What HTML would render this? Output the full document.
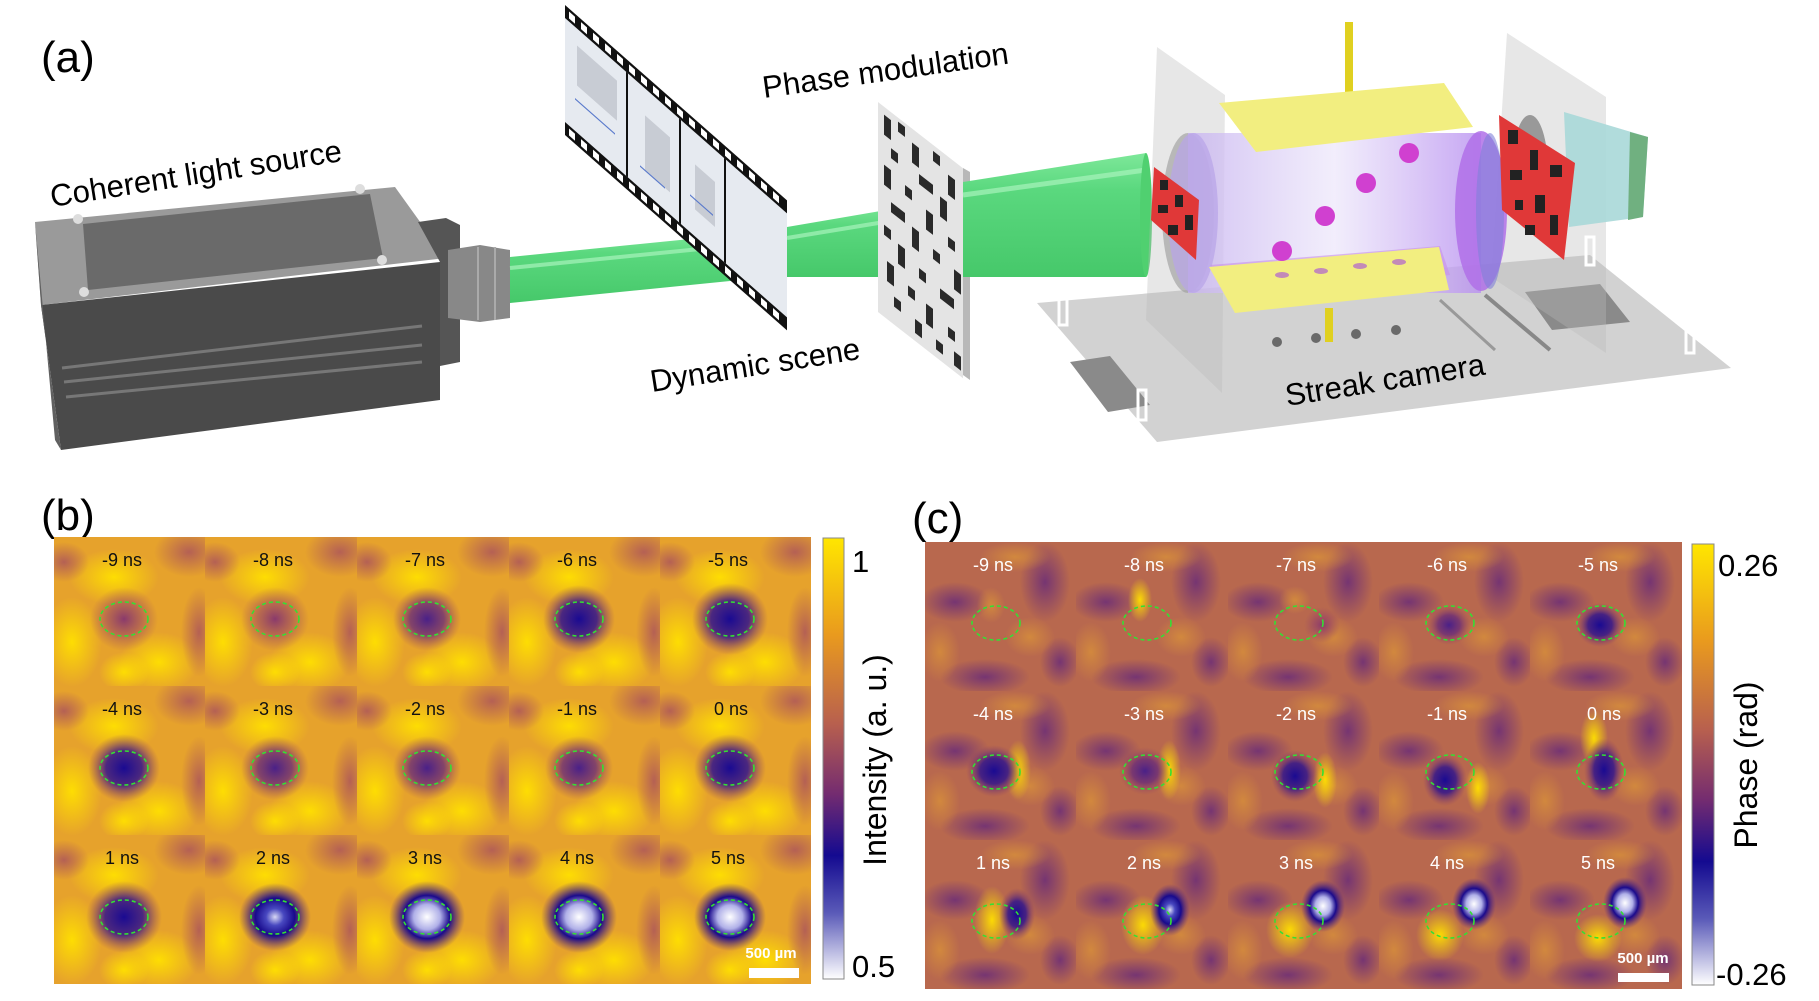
<!DOCTYPE html>
<html><head><meta charset="utf-8"><style>
html,body{margin:0;padding:0;background:#fff}
svg{display:block}
text{font-family:"Liberation Sans",Arial,sans-serif}
</style></head><body>
<svg width="1819" height="1001" viewBox="0 0 1819 1001" xmlns="http://www.w3.org/2000/svg">
<defs>
<radialGradient id="yb"><stop offset="0" stop-color="#ffe000" stop-opacity="0.95"/><stop offset="1" stop-color="#ffe000" stop-opacity="0"/></radialGradient>
<radialGradient id="pb"><stop offset="0" stop-color="#a8505e" stop-opacity="0.8"/><stop offset="1" stop-color="#a8505e" stop-opacity="0"/></radialGradient>
<radialGradient id="cp"><stop offset="0" stop-color="#6a2c78" stop-opacity="0.85"/><stop offset="1" stop-color="#6a2c78" stop-opacity="0"/></radialGradient>
<radialGradient id="co"><stop offset="0" stop-color="#d8903a" stop-opacity="0.8"/><stop offset="1" stop-color="#d8903a" stop-opacity="0"/></radialGradient>
<radialGradient id="s1"><stop offset="0" stop-color="#8a3a6c"/><stop offset="0.5" stop-color="#9a4664" stop-opacity="0.6"/><stop offset="1" stop-color="#a0505e" stop-opacity="0"/></radialGradient>
<radialGradient id="s2"><stop offset="0" stop-color="#4a2088"/><stop offset="0.5" stop-color="#6a2c78" stop-opacity="0.8"/><stop offset="1" stop-color="#9a4a60" stop-opacity="0"/></radialGradient>
<radialGradient id="s3"><stop offset="0" stop-color="#1a0a92"/><stop offset="0.5" stop-color="#3a1a88" stop-opacity="0.9"/><stop offset="1" stop-color="#8a3c68" stop-opacity="0"/></radialGradient>
<radialGradient id="s4"><stop offset="0" stop-color="#d8d8f4"/><stop offset="0.25" stop-color="#4848c0"/><stop offset="0.55" stop-color="#180a8c"/><stop offset="1" stop-color="#5a2880" stop-opacity="0"/></radialGradient>
<radialGradient id="s5"><stop offset="0" stop-color="#ffffff"/><stop offset="0.35" stop-color="#b0b0e8"/><stop offset="0.6" stop-color="#1a0a8c"/><stop offset="1" stop-color="#5a2880" stop-opacity="0"/></radialGradient>
<linearGradient id="cbar" x1="0" y1="0" x2="0" y2="1"><stop offset="0" stop-color="#ffe600"/><stop offset="0.22" stop-color="#e99a1e"/><stop offset="0.42" stop-color="#b8604e"/><stop offset="0.58" stop-color="#742c70"/><stop offset="0.72" stop-color="#140a90"/><stop offset="0.85" stop-color="#5a5ab8"/><stop offset="1" stop-color="#ffffff"/></linearGradient>
<linearGradient id="green" x1="0" y1="0" x2="0" y2="1"><stop offset="0" stop-color="#7ee89a"/><stop offset="0.3" stop-color="#5ad87e"/><stop offset="1" stop-color="#46c86a"/></linearGradient>
<linearGradient id="cyl" x1="0" y1="0" x2="1" y2="0"><stop offset="0" stop-color="#c8b4f0" stop-opacity="0.8"/><stop offset="0.5" stop-color="#ece6fa" stop-opacity="0.7"/><stop offset="1" stop-color="#b890f0" stop-opacity="0.8"/></linearGradient>
<clipPath id="tc"><rect width="153" height="151"/></clipPath>
<g id="tb" clip-path="url(#tc)">
<rect width="153" height="151" fill="#e6a22c"/>
<ellipse cx="60" cy="40" rx="45" ry="28" fill="url(#yb)"/>
<ellipse cx="105" cy="125" rx="40" ry="30" fill="url(#yb)"/>
<ellipse cx="18" cy="105" rx="30" ry="45" fill="url(#yb)"/>
<ellipse cx="70" cy="135" rx="25" ry="20" fill="url(#yb)"/>
<ellipse cx="135" cy="15" rx="35" ry="25" fill="url(#pb)"/>
<ellipse cx="145" cy="95" rx="18" ry="45" fill="url(#pb)"/>
<ellipse cx="10" cy="25" rx="25" ry="20" fill="url(#pb)"/>
</g>
<g id="tcg" clip-path="url(#tc)">
<rect width="153" height="151" fill="#b8684e"/>
<ellipse cx="30" cy="60" rx="35" ry="20" fill="url(#cp)"/>
<ellipse cx="120" cy="40" rx="25" ry="40" fill="url(#cp)"/>
<ellipse cx="60" cy="135" rx="45" ry="18" fill="url(#cp)"/>
<ellipse cx="135" cy="120" rx="20" ry="25" fill="url(#cp)"/>
<ellipse cx="90" cy="15" rx="35" ry="15" fill="url(#co)"/>
<ellipse cx="15" cy="110" rx="20" ry="30" fill="url(#co)"/>
<ellipse cx="105" cy="95" rx="25" ry="20" fill="url(#co)"/>
</g>
<ellipse id="de" rx="24" ry="17" fill="none" stroke="#33e033" stroke-width="1.6" stroke-dasharray="4 3"/>
</defs>

<!-- ===== Panel (a) ===== -->
<text x="41" y="72" font-size="44">(a)</text>

<polygon points="35,222 395,187 446,258 41,305" fill="#9a9a9a"/>
<polygon points="83,224 370,194 383,258 88,290" fill="#6a6a6a"/>
<circle cx="78" cy="219" r="5" fill="#ddd"/><circle cx="360" cy="189" r="5" fill="#ddd"/><circle cx="382" cy="260" r="5" fill="#ddd"/><circle cx="84" cy="292" r="5" fill="#ddd"/>
<polygon points="41,305 440,262 440,400 61,450" fill="#4a4a4a"/>
<polygon points="41,305 61,450 55,440 35,222" fill="#606060"/>
<g stroke="#777" stroke-width="3"><line x1="62" y1="368" x2="422" y2="326"/><line x1="64" y1="382" x2="422" y2="345"/><line x1="66" y1="397" x2="422" y2="362"/></g>
<polygon points="418,222 446,218 460,225 460,362 440,366 440,262" fill="#555"/>
<polygon points="448,250 480,245 510,250 510,318 480,322 448,318" fill="#888"/>
<g stroke="#aaa" stroke-width="2"><line x1="478" y1="247" x2="478" y2="320"/><line x1="495" y1="247" x2="495" y2="320"/></g>

<polygon points="510,257 760,232 760,278 510,303" fill="url(#green)"/>
<line x1="510" y1="268" x2="760" y2="243" stroke="#a8f4bc" stroke-width="4" opacity="0.7"/>

<g transform="matrix(1,0.88,0,1,565,5)">
<rect width="222" height="130" fill="#111"/>
<rect x="0" y="13" width="222" height="104" fill="#e6eaf0"/>
<g fill="#c8ccd4"><rect x="12" y="30" width="40" height="40"/><rect x="80" y="40" width="25" height="55"/><rect x="130" y="45" width="20" height="45"/></g>
<g stroke="#5a7acc" stroke-width="1.5"><line x1="10" y1="85" x2="50" y2="85"/><line x1="75" y1="95" x2="100" y2="95"/><line x1="125" y1="80" x2="148" y2="80"/></g>
<g stroke="#111" stroke-width="2"><line x1="62" y1="13" x2="62" y2="117"/><line x1="115" y1="13" x2="115" y2="117"/><line x1="160" y1="13" x2="160" y2="117"/></g>
<g fill="#fff">
<rect x="4" y="3" width="6" height="7"/><rect x="16" y="3" width="6" height="7"/><rect x="28" y="3" width="6" height="7"/><rect x="40" y="3" width="6" height="7"/><rect x="52" y="3" width="6" height="7"/><rect x="64" y="3" width="6" height="7"/><rect x="76" y="3" width="6" height="7"/><rect x="88" y="3" width="6" height="7"/><rect x="100" y="3" width="6" height="7"/><rect x="112" y="3" width="6" height="7"/><rect x="124" y="3" width="6" height="7"/><rect x="136" y="3" width="6" height="7"/><rect x="148" y="3" width="6" height="7"/><rect x="160" y="3" width="6" height="7"/><rect x="172" y="3" width="6" height="7"/><rect x="184" y="3" width="6" height="7"/><rect x="196" y="3" width="6" height="7"/><rect x="208" y="3" width="6" height="7"/>
<rect x="4" y="120" width="6" height="7"/><rect x="16" y="120" width="6" height="7"/><rect x="28" y="120" width="6" height="7"/><rect x="40" y="120" width="6" height="7"/><rect x="52" y="120" width="6" height="7"/><rect x="64" y="120" width="6" height="7"/><rect x="76" y="120" width="6" height="7"/><rect x="88" y="120" width="6" height="7"/><rect x="100" y="120" width="6" height="7"/><rect x="112" y="120" width="6" height="7"/><rect x="124" y="120" width="6" height="7"/><rect x="136" y="120" width="6" height="7"/><rect x="148" y="120" width="6" height="7"/><rect x="160" y="120" width="6" height="7"/><rect x="172" y="120" width="6" height="7"/><rect x="184" y="120" width="6" height="7"/><rect x="196" y="120" width="6" height="7"/><rect x="208" y="120" width="6" height="7"/>
</g>
</g>
<polygon points="787,227 927,203 927,277 787,277" fill="url(#green)"/>
<line x1="787" y1="238" x2="927" y2="215" stroke="#a8f4bc" stroke-width="4" opacity="0.7"/>

<g transform="matrix(1,0.78,0,1,878,102)">
<rect width="85" height="210" fill="#e4e4e4"/>
<g fill="#2a2a2a">
<rect x="6" y="8" width="7" height="20"/><rect x="20" y="4" width="7" height="10"/><rect x="34" y="14" width="7" height="20"/><rect x="55" y="6" width="7" height="10"/><rect x="70" y="18" width="7" height="20"/>
<rect x="13" y="36" width="7" height="10"/><rect x="41" y="40" width="14" height="10"/><rect x="62" y="46" width="7" height="20"/><rect x="6" y="58" width="7" height="20"/>
<rect x="27" y="62" width="7" height="10"/><rect x="48" y="70" width="7" height="20"/><rect x="70" y="80" width="7" height="10"/><rect x="13" y="90" width="14" height="10"/>
<rect x="34" y="98" width="7" height="20"/><rect x="55" y="104" width="7" height="10"/><rect x="76" y="108" width="7" height="20"/><rect x="6" y="118" width="7" height="10"/>
<rect x="20" y="126" width="7" height="20"/><rect x="41" y="134" width="7" height="10"/><rect x="62" y="138" width="14" height="10"/><rect x="9" y="152" width="7" height="20"/>
<rect x="30" y="160" width="7" height="10"/><rect x="48" y="164" width="7" height="20"/><rect x="70" y="170" width="7" height="10"/><rect x="16" y="182" width="7" height="10"/>
<rect x="37" y="188" width="7" height="14"/><rect x="58" y="192" width="7" height="10"/><rect x="76" y="190" width="7" height="14"/>
</g>
</g>
<polygon points="963,168 970,172 970,380 963,375" fill="#b8b8b8"/>

<polygon points="963,182 1146,153 1146,277 963,277" fill="url(#green)"/>
<line x1="963" y1="195" x2="1146" y2="170" stroke="#a8f4bc" stroke-width="5" opacity="0.7"/>
<ellipse cx="1146" cy="215" rx="6" ry="62" fill="#50d070"/>

<polygon points="1037,303 1590,255 1731,368 1157,442" fill="#d2d2d2"/>
<polygon points="1070,362 1110,356 1150,405 1108,412" fill="#8a8a8a"/>
<polygon points="1525,292 1600,284 1630,322 1552,330" fill="#8a8a8a"/>
<g fill="#6a6a6a"><circle cx="1277" cy="342" r="5"/><circle cx="1316" cy="338" r="5"/><circle cx="1356" cy="334" r="5"/><circle cx="1396" cy="330" r="5"/></g>
<line x1="1440" y1="300" x2="1495" y2="350" stroke="#999" stroke-width="3"/>
<line x1="1485" y1="295" x2="1550" y2="350" stroke="#888" stroke-width="4"/>
<polygon points="1157,47 1225,95 1222,393 1146,320" fill="#bbb" opacity="0.35"/>
<polygon points="1507,33 1606,97 1606,353 1491,277" fill="#bbb" opacity="0.35"/>
<rect x="1345" y="22" width="8" height="70" fill="#e0d020"/>
<rect x="1325" y="308" width="8" height="34" fill="#e0d020"/>
<ellipse cx="1188" cy="213" rx="26" ry="80" fill="#999" opacity="0.6"/>
<polygon points="1188,133 1481,133 1481,293 1188,293" fill="url(#cyl)"/>
<ellipse cx="1193" cy="213" rx="25" ry="80" fill="#b8a4e8" opacity="0.7"/>
<ellipse cx="1481" cy="211" rx="26" ry="80" fill="#b070e8" opacity="0.85"/>
<ellipse cx="1490" cy="211" rx="14" ry="78" fill="#8080d8" opacity="0.6"/>
<polygon points="1210,265 1440,246 1450,275 1235,296" fill="#c890e8" opacity="0.6"/>
<polygon points="1219,103 1444,83 1473,127 1256,152" fill="#f2ee80"/>
<polygon points="1209,267 1439,247 1449,290 1235,313" fill="#f2ee80"/>
<g fill="#d040d0"><circle cx="1409" cy="153" r="10"/><circle cx="1366" cy="183" r="10"/><circle cx="1325" cy="216" r="10"/><circle cx="1282" cy="251" r="10"/></g>
<g fill="#b060d0" opacity="0.7"><ellipse cx="1282" cy="275" rx="7" ry="3"/><ellipse cx="1321" cy="271" rx="7" ry="3"/><ellipse cx="1360" cy="266" rx="7" ry="3"/><ellipse cx="1399" cy="262" rx="7" ry="3"/></g>
<polygon points="1154,167 1199,200 1196,260 1151,220" fill="#e03838"/>
<g fill="#222"><rect x="1160" y="180" width="8" height="10"/><rect x="1175" y="195" width="8" height="12"/><rect x="1158" y="205" width="10" height="8"/><rect x="1185" y="215" width="8" height="15"/><rect x="1168" y="225" width="10" height="10"/></g>
<ellipse cx="1530" cy="170" rx="18" ry="55" fill="#999"/>
<polygon points="1564,112 1648,137 1643,217 1569,227" fill="#a8d8d8" opacity="0.9"/>
<polygon points="1630,132 1648,137 1643,217 1628,220" fill="#70b080"/>
<polygon points="1499,115 1575,163 1564,260 1502,210" fill="#e03838"/>
<g fill="#222"><rect x="1508" y="130" width="10" height="14"/><rect x="1530" y="150" width="8" height="20"/><rect x="1550" y="165" width="12" height="12"/><rect x="1510" y="170" width="12" height="10"/><rect x="1535" y="195" width="10" height="18"/><rect x="1515" y="200" width="8" height="10"/><rect x="1550" y="215" width="8" height="20"/><rect x="1525" y="225" width="10" height="10"/></g>
<g fill="none" stroke="#fff" stroke-width="3"><rect x="1059" y="295" width="8" height="30"/><rect x="1138" y="390" width="8" height="30"/><rect x="1586" y="237" width="8" height="28"/><rect x="1686" y="325" width="8" height="28"/></g>

<text font-size="31" transform="translate(52,207) rotate(-9)">Coherent light source</text>
<text font-size="31" transform="translate(652,392) rotate(-9)">Dynamic scene</text>
<text font-size="31" transform="translate(764,98) rotate(-8)">Phase modulation</text>
<text font-size="31" transform="translate(1287,406) rotate(-9)">Streak camera</text>

<!-- ===== Panel (b) ===== -->
<text x="41" y="530" font-size="44">(b)</text>
<g>
<use href="#tb" x="54" y="537"/><use href="#tb" x="205" y="537"/><use href="#tb" x="357" y="537"/><use href="#tb" x="509" y="537"/><use href="#tb" x="660" y="537"/>
<use href="#tb" x="54" y="686"/><use href="#tb" x="205" y="686"/><use href="#tb" x="357" y="686"/><use href="#tb" x="509" y="686"/><use href="#tb" x="660" y="686"/>
<use href="#tb" x="54" y="835"/><use href="#tb" x="205" y="835"/><use href="#tb" x="357" y="835"/><use href="#tb" x="509" y="835"/><use href="#tb" x="660" y="835"/>
</g>
<rect x="811" y="530" width="8" height="460" fill="#fff"/>
<rect x="50" y="984" width="770" height="10" fill="#fff"/>
<g>
<ellipse cx="124" cy="619" rx="34" ry="32" fill="url(#s1)"/><ellipse cx="275" cy="619" rx="34" ry="32" fill="url(#s1)"/><ellipse cx="427" cy="619" rx="34" ry="32" fill="url(#s2)"/><ellipse cx="579" cy="619" rx="36" ry="34" fill="url(#s3)"/><ellipse cx="730" cy="619" rx="38" ry="36" fill="url(#s3)"/>
<ellipse cx="124" cy="768" rx="36" ry="34" fill="url(#s3)"/><ellipse cx="275" cy="768" rx="34" ry="32" fill="url(#s2)"/><ellipse cx="427" cy="768" rx="34" ry="32" fill="url(#s2)"/><ellipse cx="579" cy="768" rx="34" ry="32" fill="url(#s2)"/><ellipse cx="730" cy="768" rx="36" ry="34" fill="url(#s3)"/>
<ellipse cx="124" cy="917" rx="38" ry="36" fill="url(#s3)"/><ellipse cx="275" cy="917" rx="36" ry="34" fill="url(#s4)"/><ellipse cx="427" cy="917" rx="38" ry="36" fill="url(#s5)"/><ellipse cx="579" cy="917" rx="38" ry="36" fill="url(#s5)"/><ellipse cx="730" cy="917" rx="36" ry="34" fill="url(#s5)"/>
</g>
<g>
<use href="#de" x="124" y="619"/><use href="#de" x="275" y="619"/><use href="#de" x="427" y="619"/><use href="#de" x="579" y="619"/><use href="#de" x="730" y="619"/>
<use href="#de" x="124" y="768"/><use href="#de" x="275" y="768"/><use href="#de" x="427" y="768"/><use href="#de" x="579" y="768"/><use href="#de" x="730" y="768"/>
<use href="#de" x="124" y="917"/><use href="#de" x="275" y="917"/><use href="#de" x="427" y="917"/><use href="#de" x="579" y="917"/><use href="#de" x="730" y="917"/>
</g>
<g font-size="18" text-anchor="middle" fill="#111">
<text x="122" y="566">-9 ns</text><text x="273" y="566">-8 ns</text><text x="425" y="566">-7 ns</text><text x="577" y="566">-6 ns</text><text x="728" y="566">-5 ns</text>
<text x="122" y="715">-4 ns</text><text x="273" y="715">-3 ns</text><text x="425" y="715">-2 ns</text><text x="577" y="715">-1 ns</text><text x="731" y="715">0 ns</text>
<text x="122" y="864">1 ns</text><text x="273" y="864">2 ns</text><text x="425" y="864">3 ns</text><text x="577" y="864">4 ns</text><text x="728" y="864">5 ns</text>
</g>
<text x="771" y="958" font-size="15" font-weight="bold" fill="#fff" text-anchor="middle">500 µm</text>
<rect x="749" y="968" width="50" height="10" fill="#fff"/>
<rect x="823" y="538" width="21" height="441" fill="url(#cbar)" stroke="#888" stroke-width="1"/>
<text x="852" y="572" font-size="31">1</text>
<text x="852" y="977" font-size="31">0.5</text>
<text font-size="32" text-anchor="middle" transform="translate(886,760) rotate(-90)">Intensity (a. u.)</text>

<!-- ===== Panel (c) ===== -->
<text x="912" y="533" font-size="44">(c)</text>
<g>
<use href="#tcg" x="925" y="542"/><use href="#tcg" x="1076" y="542"/><use href="#tcg" x="1228" y="542"/><use href="#tcg" x="1379" y="542"/><use href="#tcg" x="1530" y="542"/>
<use href="#tcg" x="925" y="691"/><use href="#tcg" x="1076" y="691"/><use href="#tcg" x="1228" y="691"/><use href="#tcg" x="1379" y="691"/><use href="#tcg" x="1530" y="691"/>
<use href="#tcg" x="925" y="840"/><use href="#tcg" x="1076" y="840"/><use href="#tcg" x="1228" y="840"/><use href="#tcg" x="1379" y="840"/><use href="#tcg" x="1530" y="840"/>
</g>
<rect x="1682" y="535" width="8" height="460" fill="#fff"/>
<rect x="920" y="989" width="770" height="10" fill="#fff"/>
<g>
<ellipse cx="991" cy="605" rx="14" ry="18" fill="url(#co)"/><ellipse cx="1140" cy="600" rx="12" ry="22" fill="url(#yb)"/><ellipse cx="1295" cy="600" rx="16" ry="14" fill="url(#co)"/>
<ellipse cx="1449" cy="625" rx="22" ry="20" fill="url(#s2)"/><ellipse cx="1600" cy="625" rx="24" ry="22" fill="url(#s3)"/>
<ellipse cx="1322" cy="625" rx="18" ry="18" fill="url(#s1)"/>
<ellipse cx="1018" cy="770" rx="13" ry="30" fill="url(#yb)"/><ellipse cx="1169" cy="770" rx="12" ry="30" fill="url(#yb)"/><ellipse cx="1325" cy="780" rx="12" ry="28" fill="url(#yb)"/><ellipse cx="1478" cy="788" rx="12" ry="26" fill="url(#yb)"/><ellipse cx="1594" cy="738" rx="14" ry="28" fill="url(#yb)"/>
<ellipse cx="994" cy="771" rx="28" ry="26" fill="url(#s3)"/><ellipse cx="1145" cy="771" rx="26" ry="24" fill="url(#s2)"/><ellipse cx="1295" cy="776" rx="24" ry="26" fill="url(#s3)"/><ellipse cx="1445" cy="780" rx="22" ry="26" fill="url(#s3)"/><ellipse cx="1604" cy="770" rx="20" ry="32" fill="url(#s3)"/>
<ellipse cx="992" cy="920" rx="18" ry="34" fill="url(#yb)"/><ellipse cx="1143" cy="925" rx="22" ry="30" fill="url(#yb)"/><ellipse cx="1290" cy="930" rx="24" ry="28" fill="url(#yb)"/><ellipse cx="1440" cy="935" rx="24" ry="26" fill="url(#yb)"/><ellipse cx="1598" cy="938" rx="24" ry="24" fill="url(#yb)"/>
<ellipse cx="1017" cy="914" rx="18" ry="26" fill="url(#s3)"/><ellipse cx="1170" cy="910" rx="20" ry="26" fill="url(#s4)"/><ellipse cx="1323" cy="906" rx="22" ry="26" fill="url(#s5)"/><ellipse cx="1474" cy="904" rx="22" ry="26" fill="url(#s5)"/><ellipse cx="1625" cy="903" rx="22" ry="26" fill="url(#s5)"/>
</g>
<g>
<use href="#de" x="996" y="623"/><use href="#de" x="1147" y="623"/><use href="#de" x="1299" y="623"/><use href="#de" x="1450" y="623"/><use href="#de" x="1601" y="623"/>
<use href="#de" x="996" y="772"/><use href="#de" x="1147" y="772"/><use href="#de" x="1299" y="772"/><use href="#de" x="1450" y="772"/><use href="#de" x="1601" y="772"/>
<use href="#de" x="996" y="921"/><use href="#de" x="1147" y="921"/><use href="#de" x="1299" y="921"/><use href="#de" x="1450" y="921"/><use href="#de" x="1601" y="921"/>
</g>
<g font-size="18" text-anchor="middle" fill="#fff">
<text x="993" y="571">-9 ns</text><text x="1144" y="571">-8 ns</text><text x="1296" y="571">-7 ns</text><text x="1447" y="571">-6 ns</text><text x="1598" y="571">-5 ns</text>
<text x="993" y="720">-4 ns</text><text x="1144" y="720">-3 ns</text><text x="1296" y="720">-2 ns</text><text x="1447" y="720">-1 ns</text><text x="1604" y="720">0 ns</text>
<text x="993" y="869">1 ns</text><text x="1144" y="869">2 ns</text><text x="1296" y="869">3 ns</text><text x="1447" y="869">4 ns</text><text x="1598" y="869">5 ns</text>
</g>
<text x="1643" y="963" font-size="15" font-weight="bold" fill="#fff" text-anchor="middle">500 µm</text>
<rect x="1618" y="973" width="51" height="9" fill="#fff"/>
<rect x="1692" y="544" width="22" height="441" fill="url(#cbar)" stroke="#888" stroke-width="1"/>
<text x="1718" y="576" font-size="31">0.26</text>
<text x="1716" y="985" font-size="31">-0.26</text>
<text font-size="32" text-anchor="middle" transform="translate(1757,765) rotate(-90)">Phase (rad)</text>
</svg>
</body></html>
